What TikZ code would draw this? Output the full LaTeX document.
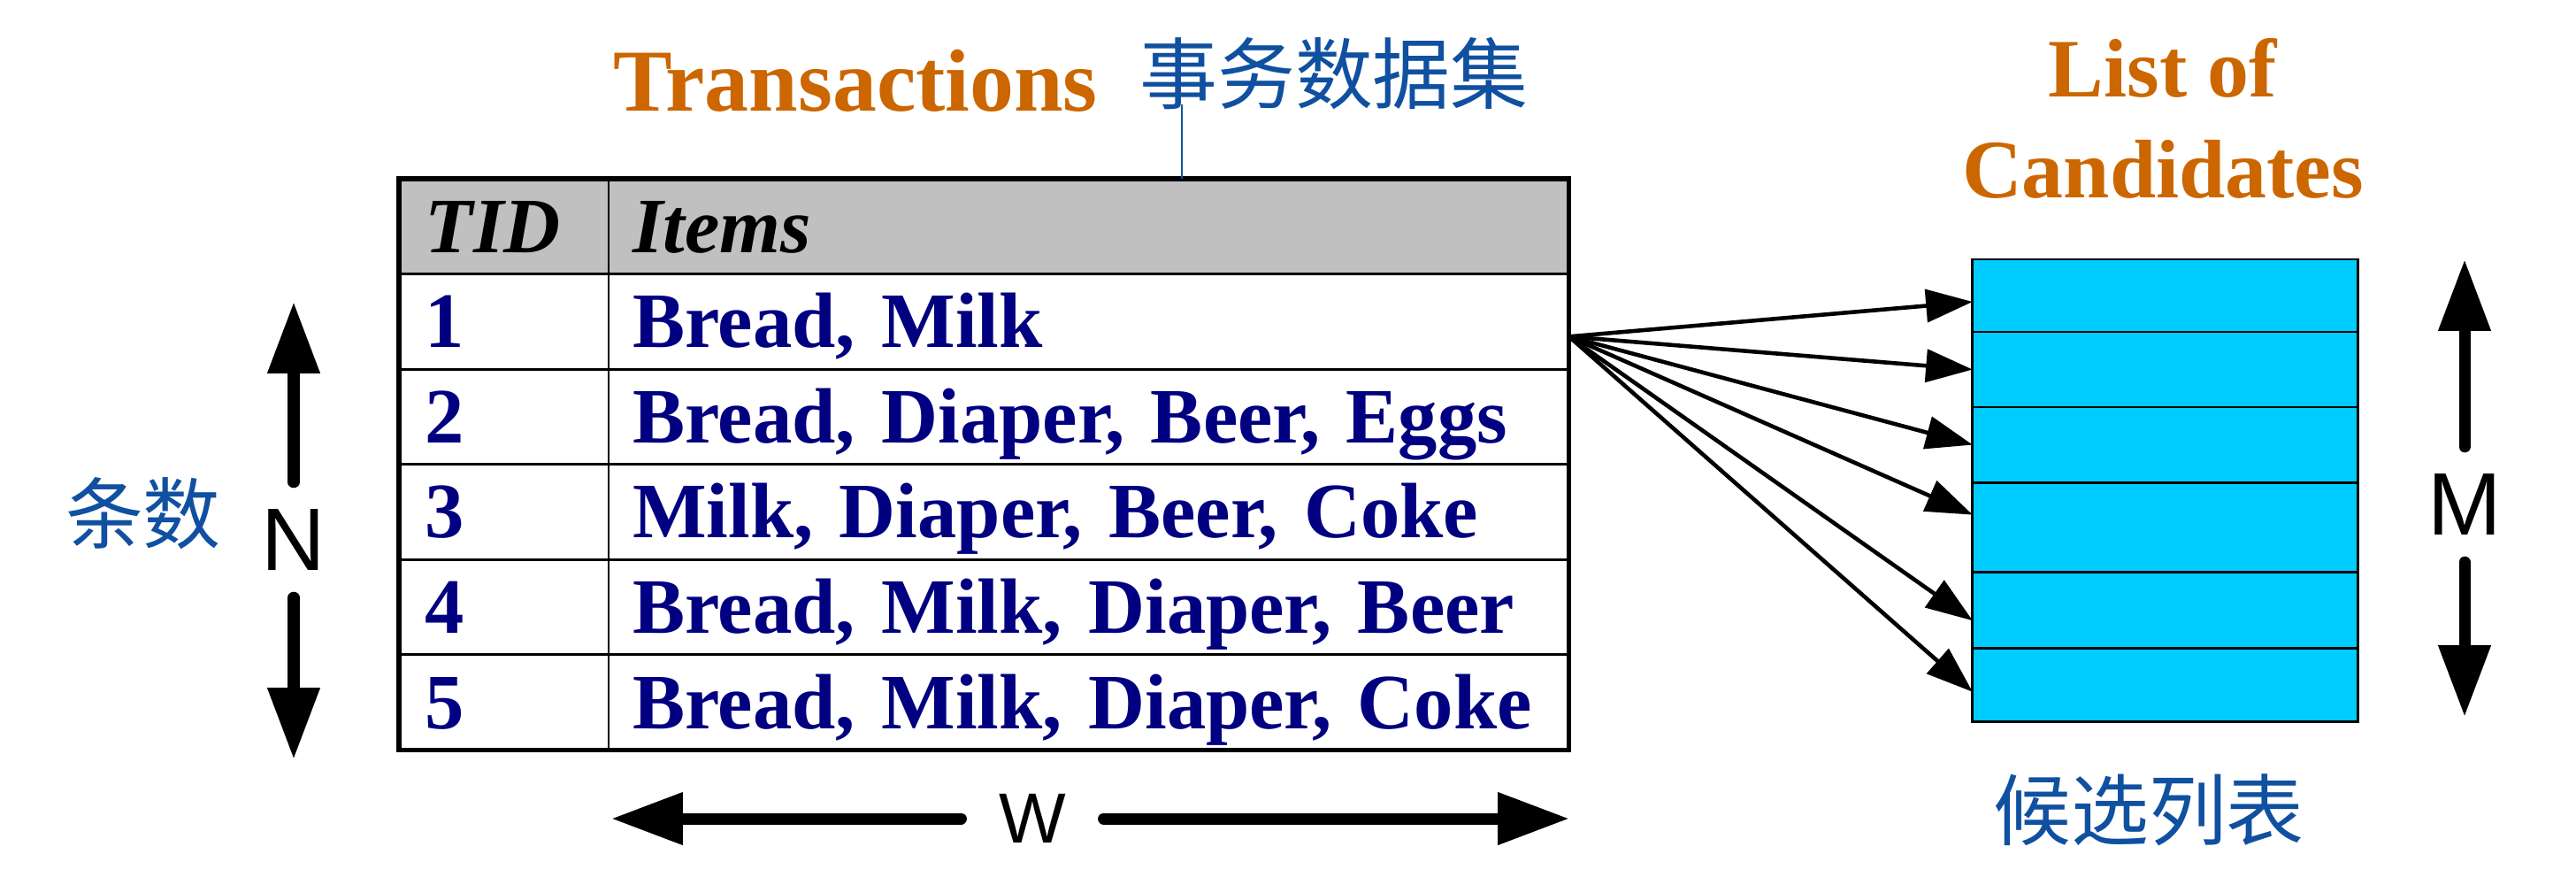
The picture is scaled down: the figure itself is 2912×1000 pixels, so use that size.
\documentclass[tikz,border=0pt]{standalone}
\usepackage{fontspec}
\setmainfont{Liberation Serif}
\newfontfamily\arialfont{Liberation Sans}
\newfontfamily\cjkfont{Noto Sans CJK SC}
\usepackage{xcolor}
\usepackage{tikz}
\usetikzlibrary{arrows.meta,positioning}
\definecolor{titleorange}{RGB}{204,102,0}
\definecolor{itemnavy}{RGB}{0,0,128}
\definecolor{headgray}{RGB}{192,192,192}
\definecolor{candcyan}{RGB}{0,204,255}
\definecolor{handblue}{RGB}{16,80,160}
\newcommand{\tablefont}{\fontsize{25.2pt}{30pt}\selectfont\bfseries}

\begin{document}
\begin{tikzpicture}[x=0.01cm, y=-0.01cm,
  cell/.style={draw, line width=0.8pt, outer sep=0pt, inner ysep=0pt, minimum height=1.075cm, text height=0.59cm, text depth=0pt, align=left, font=\tablefont},
  tidcell/.style={cell, text width=1.77cm, inner xsep=0.3cm},
  itemcell/.style={cell, text width=10.31cm, inner xsep=0.27cm},
  headrow/.style={fill=headgray, text=black, font={\tablefont\itshape}},
  datarow/.style={fill=white, text=itemnavy},
  candbox/.style={draw, fill=candcyan, line width=0.8pt, minimum width=4.35cm, outer sep=0pt, inner sep=0pt},
  fanarrow/.style={line width=1.3pt, -{Triangle[length=15pt,width=10.5pt]}},
  dimlabel/.style={font=\arialfont\fontsize{28.5pt}{34pt}\selectfont, inner sep=0.3cm},
  dimarrow/.style={line width=3.7pt, line cap=round, -{Triangle[length=23pt,width=16pt]}},
  title/.style={text=titleorange, font=\fontsize{28.4pt}{34pt}\selectfont\bfseries, anchor=base, inner sep=0pt},
  hand/.style={text=handblue, font=\cjkfont\fontsize{25pt}{30pt}\selectfont}]
  \useasboundingbox (0,0) rectangle (2912,1000);
  \fill[white] (0,0) rectangle (2912,1000);

  % titles
  \node[title] (txtitle) at (967,125) {Transactions};
  \node[title, font=\fontsize{26.7pt}{32pt}\selectfont\bfseries] (listof) at (2445,110) {List of};
  \node[title, font=\fontsize{26.7pt}{32pt}\selectfont\bfseries] (candtitle) at ([yshift=-1.13cm]listof.base) {Candidates};

  % transaction table
  \node[tidcell, headrow] (tid0) at (569.5,255.75) {TID};
  \node[itemcell, headrow, right=0cm of tid0] (items0) {Items};
  \node[tidcell, datarow, below=0cm of tid0] (tid1) {1};
  \node[itemcell, datarow, right=0cm of tid1] (items1) {Bread, Milk};
  \node[tidcell, datarow, below=0cm of tid1] (tid2) {2};
  \node[itemcell, datarow, right=0cm of tid2] (items2) {Bread, Diaper, Beer, Eggs};
  \node[tidcell, datarow, below=0cm of tid2] (tid3) {3};
  \node[itemcell, datarow, right=0cm of tid3] (items3) {Milk, Diaper, Beer, Coke};
  \node[tidcell, datarow, below=0cm of tid3] (tid4) {4};
  \node[itemcell, datarow, right=0cm of tid4] (items4) {Bread, Milk, Diaper, Beer};
  \node[tidcell, datarow, below=0cm of tid4] (tid5) {5};
  \node[itemcell, datarow, right=0cm of tid5] (items5) {Bread, Milk, Diaper, Coke};
  \draw[line width=1.5pt] (tid0.north west) rectangle (items5.south east);

  % candidate list
  \node[candbox, minimum height=0.82cm] (cand1) at (2447.5,334) {};
  \node[candbox, minimum height=0.85cm, below=0cm of cand1] (cand2) {};
  \node[candbox, minimum height=0.85cm, below=0cm of cand2] (cand3) {};
  \node[candbox, minimum height=1.01cm, below=0cm of cand3] (cand4) {};
  \node[candbox, minimum height=0.86cm, below=0cm of cand4] (cand5) {};
  \node[candbox, minimum height=0.83cm, below=0cm of cand5] (cand6) {};

  \coordinate (fan) at ([yshift=-0.17cm]items1.east);
  \draw[fanarrow] (fan) -- ([yshift=-0.07cm]cand1.west);
  \draw[fanarrow] (fan) -- (cand2.west);
  \draw[fanarrow] (fan) -- (cand3.west);
  \draw[fanarrow] (fan) -- ([yshift=0.14cm]cand4.west);
  \draw[fanarrow] (fan) -- ([yshift=-0.12cm]cand5.west);
  \draw[fanarrow] (fan) -- ([yshift=-0.08cm]cand6.west);

  % size arrows
  \node[dimlabel] (nlabel) at (332,610) {N};
  \coordinate (ntop) at (332,341);
  \coordinate (nbot) at (332,858);
  \draw[dimarrow] (nlabel) -- (ntop);
  \draw[dimarrow] (nlabel) -- (nbot);

  \node[dimlabel] (mlabel) at (2786,570) {M};
  \coordinate (mtop) at (2786,293);
  \coordinate (mbot) at (2786,810);
  \draw[dimarrow] (mlabel) -- (mtop);
  \draw[dimarrow] (mlabel) -- (mbot);

  \node[dimlabel, font=\arialfont\fontsize{22.8pt}{27pt}\selectfont, inner xsep=0.42cm] (wlabel) at (1167,925) {W};
  \coordinate (wleft) at (691,925);
  \coordinate (wright) at (1774,925);
  \draw[dimarrow] (wlabel) -- (wleft);
  \draw[dimarrow] (wlabel) -- (wright);

  % handwritten notes
  \node[hand] (hwtx) at (1508,83) {事务数据集};
  \node[hand] (hwcount) at (162,580) {条数};
  \node[hand] (hwcand) at (2429,915) {候选列表};
  \coordinate (stroke) at (1336,118);
  \draw[handblue, line width=0.8pt] (stroke) -- (stroke |- items0.north);
\end{tikzpicture}
\end{document}
